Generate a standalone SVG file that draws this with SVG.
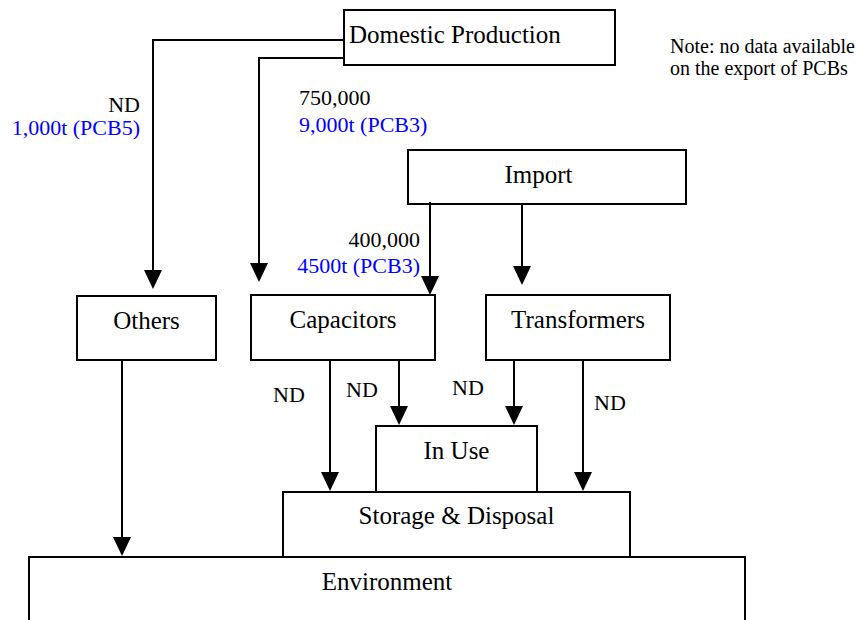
<svg xmlns="http://www.w3.org/2000/svg" width="857" height="620" viewBox="0 0 857 620">
<style>
.box{fill:#fff;stroke:#000;stroke-width:2}
.lbl{font-family:"Liberation Serif","Times New Roman",serif;font-size:25px;fill:#000}
.t{font-family:"Liberation Serif","Times New Roman",serif;font-size:22px;fill:#000}
.b{fill:#0000ff}
.note{font-family:"Liberation Serif","Times New Roman",serif;font-size:20px;fill:#000}
.c{fill:none;stroke:#000;stroke-width:2;marker-end:url(#ah)}
</style>
<defs>
<marker id="ah" markerUnits="userSpaceOnUse" markerWidth="19" markerHeight="18" viewBox="0 0 19 18" refX="15" refY="9" orient="auto" overflow="visible">
<path d="M0,0 L19,9 L0,18 z" fill="#000"/>
</marker>
</defs>
<rect width="857" height="620" fill="#fff"/>
<g id="environment"><rect class="box" x="29" y="557" width="716" height="80"/><text class="lbl" x="387" y="590" text-anchor="middle">Environment</text></g>
<g id="storage"><rect class="box" x="283" y="492" width="347" height="65"/><text class="lbl" x="456.5" y="524" text-anchor="middle">Storage &amp; Disposal</text></g>
<g id="inuse"><rect class="box" x="376" y="426" width="161" height="66"/><text class="lbl" x="456.5" y="459" text-anchor="middle">In Use</text></g>
<g id="domestic"><rect class="box" x="344" y="10" width="271" height="55"/><text class="lbl" x="349" y="43">Domestic Production</text></g>
<g id="import"><rect class="box" x="408" y="150" width="278" height="54"/><text class="lbl" x="538.5" y="183" text-anchor="middle">Import</text></g>
<g id="others"><rect class="box" x="77" y="296" width="139" height="64"/><text class="lbl" x="146.5" y="329" text-anchor="middle">Others</text></g>
<g id="capacitors"><rect class="box" x="251" y="295" width="184" height="65"/><text class="lbl" x="343" y="328" text-anchor="middle">Capacitors</text></g>
<g id="transformers"><rect class="box" x="486" y="295" width="184" height="65"/><text class="lbl" x="578" y="328" text-anchor="middle">Transformers</text></g>
<g id="connectors">
<path class="c" d="M344,40 H153 V285"/>
<path class="c" d="M344,58 H259 V278"/>
<path class="c" d="M430,202 V291"/>
<path class="c" d="M522,204 V281"/>
<path class="c" d="M122,360 V552"/>
<path class="c" d="M330,360 V487"/>
<path class="c" d="M399,360 V421"/>
<path class="c" d="M514,360 V421"/>
<path class="c" d="M583,360 V487"/>
</g>
<g id="labels">
<text class="t" x="140" y="112" text-anchor="end">ND</text>
<text class="t b" x="140" y="135" text-anchor="end">1,000t (PCB5)</text>
<text class="t" x="299" y="105">750,000</text>
<text class="t b" x="299" y="132">9,000t (PCB3)</text>
<text class="t" x="420" y="247" text-anchor="end">400,000</text>
<text class="t b" x="420" y="273" text-anchor="end">4500t (PCB3)</text>
<text class="t" x="273" y="402">ND</text>
<text class="t" x="346" y="397">ND</text>
<text class="t" x="452" y="395">ND</text>
<text class="t" x="594" y="410">ND</text>
<text class="note" x="670" y="53">Note: no data available</text>
<text class="note" x="670" y="75">on the export of PCBs</text>
</g>
</svg>
